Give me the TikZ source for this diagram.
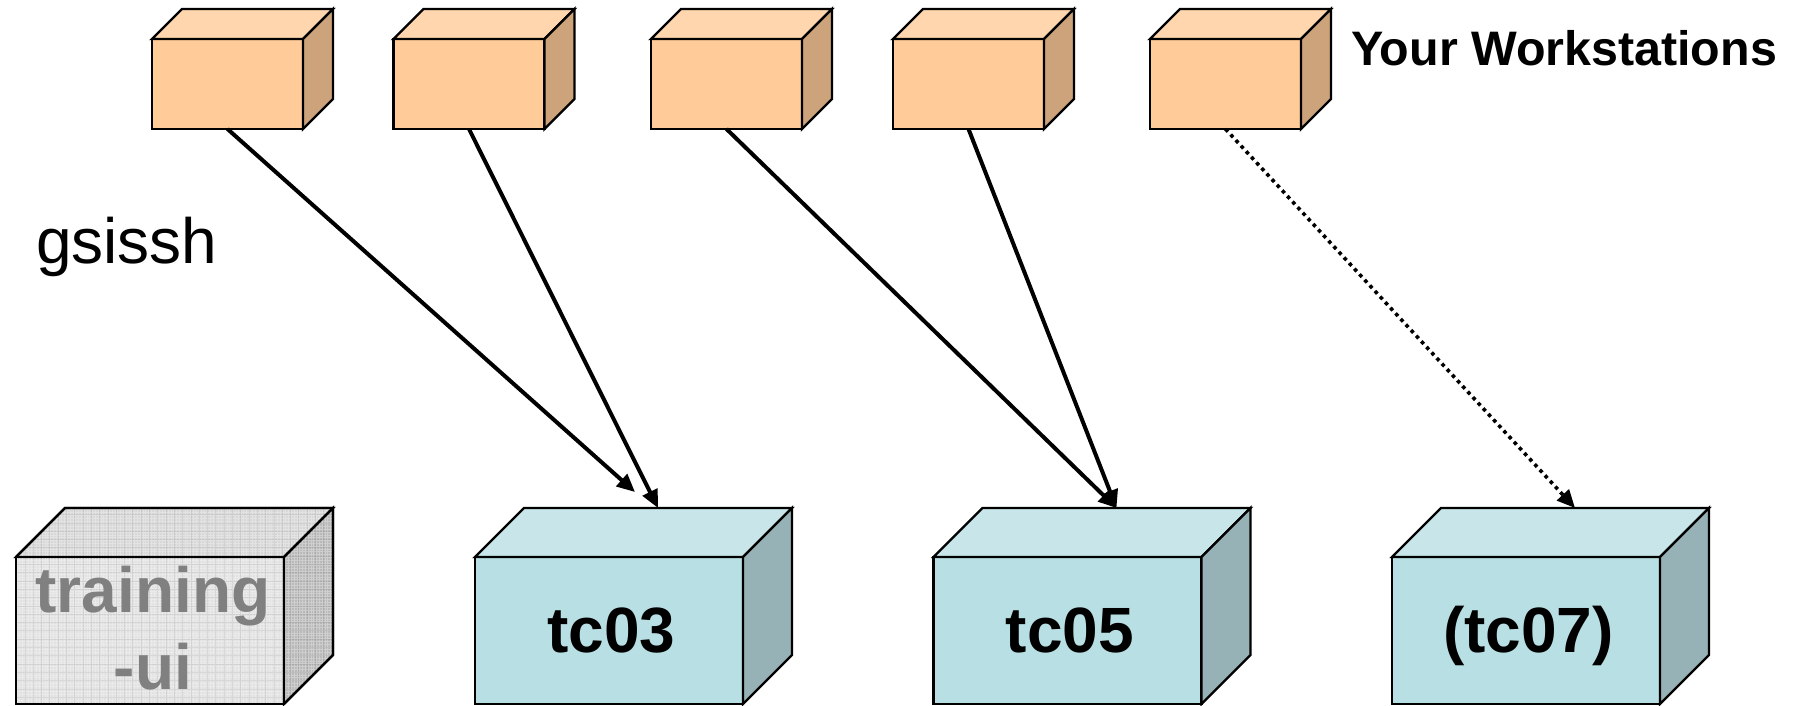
\documentclass[tikz,border=0pt]{standalone}
\usepackage{fontspec}
\setmainfont{Liberation Sans}
\usetikzlibrary{arrows.meta,calc}
\definecolor{wsFront}{HTML}{FFCC99}
\definecolor{wsTop}{HTML}{FFD6AD}
\definecolor{wsSide}{HTML}{CCA37A}
\definecolor{tcFront}{HTML}{B8DFE3}
\definecolor{tcTop}{HTML}{C8E6E9}
\definecolor{tcSide}{HTML}{96B2B6}
\definecolor{uiFront}{HTML}{E2E2E2}
\definecolor{uiTop}{HTML}{D8D8D8}
\definecolor{uiSide}{HTML}{BABABA}
\definecolor{uiText}{HTML}{808080}
\tikzset{
  x=1pt,y=-1pt,
  facebox/.style={draw=black,line width=2.3pt,line join=miter,inner sep=0pt,outer sep=0pt,anchor=north west},
  face/.style={draw=black,line width=2.3pt,line join=miter},
  wsbox/.style={facebox,fill=wsFront,minimum width=151pt,minimum height=90pt},
  tcbox/.style={facebox,fill=tcFront,minimum width=268pt,minimum height=147pt,
    font=\bfseries\fontsize{64}{64}\selectfont,text=black,text height=43pt,text depth=0pt},
  uibox/.style={facebox,fill=uiFront,minimum width=268pt,minimum height=147pt},
  uilabel/.style={font=\bfseries\fontsize{64}{77}\selectfont,text=uiText,align=center,inner sep=0pt},
  caption/.style={font=\bfseries\fontsize{48.4}{50}\selectfont,anchor=base west,inner sep=0pt},
  plainlabel/.style={font=\fontsize{64}{70}\selectfont,anchor=base west,inner sep=0pt},
  link/.style={line width=4pt,-{Triangle[length=18pt,width=16pt]}},
  dottedlink/.style={line width=3.6pt,dash pattern=on 3.6pt off 4pt,
    -{Triangle[length=18pt,width=16pt,sep=0pt]}},
}
% #1 name, #2 depth, #3 top colour, #4 side colour, #5 width, #6 height
\newcommand{\cubefaces}[6]{%
  \path[face,fill=#3] (#1.north west) -- ++(#2,-#2) -- ++(#5,0) -- (#1.north east) -- cycle;
  \path[face,fill=#4] (#1.north east) -- ++(#2,-#2) -- ++(0,#6) -- (#1.south east) -- cycle;
}
\newcommand{\wscube}[2]{%
  \node[wsbox] (#1) at (#2,39) {};
  \cubefaces{#1}{30}{wsTop}{wsSide}{151}{90}%
}
\newcommand{\tccube}[3]{%
  \node[tcbox] (#1) at (#2,557) {\hspace*{5pt}#3};
  \cubefaces{#1}{49}{tcTop}{tcSide}{268}{147}%
  \coordinate (#1top) at ($(#1.north)+(49,-49)$);
}
\begin{document}
\begin{tikzpicture}
\useasboundingbox (0,0) rectangle (1794,706);
\fill[white] (0,0) rectangle (1794,706);

\wscube{wa}{152}
\wscube{wb}{393.5}
\wscube{wc}{651}
\wscube{wd}{893}
\wscube{we}{1150}

% training-ui box
\node[uibox] (ui) at (16,557) {};
\cubefaces{ui}{49}{uiTop}{uiSide}{268}{147}
\begin{scope}
  \clip (16,557) -- (65,508) -- (333,508) -- (333,655) -- (284,704) -- (16,704) -- cycle;
  \draw[white,opacity=.30,line width=.5pt,step=2.8pt] (0,500) grid (340,710);
  \draw[black,opacity=.08,line width=.8pt,step=8.3pt] (0,500) grid (340,710);
\end{scope}
\path[face] (ui.north west) rectangle (ui.south east);
\path[face] (ui.north west) -- ++(49,-49) -- ++(268,0) -- ++(0,147) -- (ui.south east);
\path[face] (ui.north east) -- ++(49,-49);
\node[uilabel] (uitext) at ($(ui.center)+(3,-2)$) {training\\-ui};

\tccube{tca}{475}{tc03}
\tccube{tcb}{933.5}{tc05}
\tccube{tcc}{1392}{(tc07)}

\node[caption] (cap) at (1351,66) {Your Workstations};
\node[plainlabel] (proto) at (36,263) {gsissh};

\coordinate (tcaside) at (635,492);
\draw[link] (wa.south) -- (tcaside);
\draw[link] (wb.south) -- (tcatop);
\draw[link] (wc.south) -- (tcbtop);
\draw[link] (wd.south) -- (tcbtop);
\draw[dottedlink] (we.south) -- (tcctop);
\end{tikzpicture}
\end{document}
